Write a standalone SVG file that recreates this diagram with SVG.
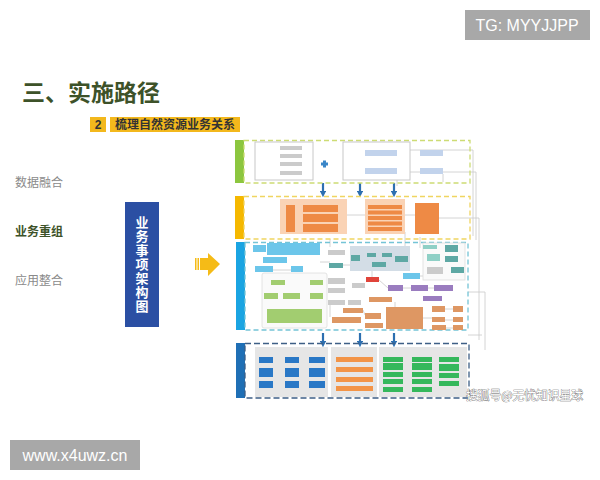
<svg xmlns="http://www.w3.org/2000/svg" width="600" height="480" viewBox="0 0 600 480">
<style>
.cjk{font-family:"Noto Sans CJK SC","Liberation Sans",sans-serif}
.lat{font-family:"Liberation Sans",Arial,sans-serif}
.side{font-size:12px;fill:#8a8a8a}
.o{fill:#ee8a45}
.lo{fill:#fad3b5}
.b{fill:#2a78c6}
.og{fill:#f39447}
.g{fill:#35b85c}
.gp{fill:#e6e6e6}
.cy{fill:#6cc6ea}
.tl{fill:#5ea8a4}
.lg{fill:#a2cd70}
.gr{fill:#cbcbcb}
.pu{fill:#9a7cbf}
.br{fill:#de9763}
.lb{fill:#c2d3ec}
.wb{fill:#fff;stroke:#c8c8c8;stroke-width:1}
.ln{fill:none;stroke:#c9c9c9;stroke-width:0.8}
.ar{fill:none;stroke:#2d6fb0;stroke-width:2.2}
</style>
<defs>
<marker id="ah" viewBox="0 0 6 6" refX="3" refY="3" markerWidth="3" markerHeight="3" orient="auto"><path d="M0,0 L6,3 L0,6 z" fill="#2d6fb0"/></marker>
</defs>
<rect width="600" height="480" fill="#fff"/>

<g id="title">
<text x="22" y="101" class="cjk" font-size="23" font-weight="bold" fill="#3d5229">三、实施路径</text>
</g>
<g id="badge">
<rect x="90" y="117" width="16" height="15" fill="#f3b81c"/>
<text x="98" y="129" class="lat" font-size="12" font-weight="bold" fill="#333" text-anchor="middle">2</text>
<rect x="110" y="117" width="130" height="15" fill="#f3b81c"/>
<text x="175" y="129" class="cjk" font-size="12" font-weight="bold" fill="#333" text-anchor="middle">梳理自然资源业务关系</text>
</g>

<g id="left-labels">
<text x="15" y="187" class="cjk side">数据融合</text>
<text x="15" y="236" class="cjk" font-size="12" font-weight="bold" fill="#3d5229">业务重组</text>
<text x="15" y="285" class="cjk side">应用整合</text>
</g>

<g id="arch-box">
<rect x="125" y="202" width="34" height="125" fill="#2b4fa3"/>
<text x="142" y="265" class="cjk" font-size="13" font-weight="bold" fill="#fff" text-anchor="middle" writing-mode="vertical-rl" letter-spacing="1">业务事项架构图</text>
</g>

<g id="yellow-arrow" fill="#f5bb17">
<rect x="195" y="258" width="1.5" height="12"/>
<rect x="197.5" y="258" width="1.5" height="12"/>
<polygon points="200,258 208,258 208,253 220,264 208,276 208,270 200,270"/>
</g>

<g id="connectors">
<path class="ln" d="M410,172 L470,172 L476,172 L476,240"/>
<path class="ln" d="M443,174 L443,182 M397,174 L397,186 M410,150 L473,150 L473,236"/>
<path class="ln" d="M347,215 L365,215 M405,215 L415,215 M439,218 L479,218 L479,340"/>
<path class="ln" d="M330,239 L330,247 M405,232 L405,246 M420,237 L420,248"/>
<path class="ln" d="M468,292 L485,292 L485,350 M468,335 L482,335 M320,262 L330,262 M343,265 L350,265 M360,258 L367,255 M376,255 L382,255 M386,264 L395,260 M372,271 L372,277 M379,280 L388,288 M403,288 L411,288 M428,288 L434,288 M403,276 L423,276 M395,302 L395,307 M363,310 L365,315 M423,318 L432,318 M445,309 L453,309 M445,320 L453,320 M445,328 L453,328 M437,247 L445,248 M440,258 L445,259 M285,283 L310,283 M278,296 L283,296 M300,296 L310,296 M291,300 L291,309 M266,270 L291,270 M330,305 L330,317"/>
<path class="ar" d="M323,183 L323,194" marker-end="url(#ah)"/>
<path class="ar" d="M360,183 L360,194" marker-end="url(#ah)"/>
<path class="ar" d="M394,183 L394,194" marker-end="url(#ah)"/>
<path class="ar" d="M323,333 L323,344" marker-end="url(#ah)"/>
<path class="ar" d="M360,333 L360,344" marker-end="url(#ah)"/>
<path class="ar" d="M394,333 L394,344" marker-end="url(#ah)"/>
</g>

<g id="band-data">
<rect x="235" y="140" width="9" height="43" fill="#8cc63f"/>
<rect x="244" y="140.5" width="226" height="42.5" fill="none" stroke="#cddc74" stroke-width="1.3" stroke-dasharray="5,3"/>
<rect x="255" y="142" width="58" height="38" class="wb"/>
<rect x="280" y="146" width="22" height="4" class="gr"/>
<rect x="280" y="154" width="22" height="4" class="gr"/>
<rect x="280" y="162" width="22" height="4" class="gr"/>
<rect x="280" y="171" width="22" height="4" class="gr"/>
<path d="M321,164 h7 M324.5,160.5 v7" stroke="#3a86c8" stroke-width="3"/>
<rect x="343" y="142" width="67" height="38" class="wb"/>
<rect x="365" y="150" width="32" height="6" class="lb"/>
<rect x="365" y="168" width="32" height="6" class="lb"/>
<rect x="420" y="150" width="23" height="6" class="lb"/>
<rect x="420" y="168" width="23" height="6" class="lb"/>
</g>

<g id="band-business">
<rect x="235" y="196" width="9" height="43" fill="#f5b800"/>
<rect x="244" y="196.5" width="226" height="42.5" fill="none" stroke="#f0d560" stroke-width="1.3" stroke-dasharray="5,3"/>
<rect x="280" y="199" width="67" height="35" class="lo"/>
<rect x="286" y="205" width="9" height="27" class="o"/>
<rect x="303" y="205" width="35" height="7" class="o"/>
<rect x="303" y="214" width="35" height="8" class="o"/>
<rect x="303" y="224" width="35" height="8" class="o"/>
<rect x="365" y="199" width="40" height="35" class="lo"/>
<rect x="368" y="205" width="34" height="4" class="o"/>
<rect x="368" y="210.5" width="34" height="4" class="o"/>
<rect x="368" y="216" width="34" height="4" class="o"/>
<rect x="368" y="221.5" width="34" height="4" class="o"/>
<rect x="368" y="227" width="34" height="4" class="o"/>
<rect x="415" y="203" width="24" height="31" class="o"/>
</g>

<g id="band-application">
<rect x="236" y="242" width="9" height="88" fill="#1aa4e2"/>
<rect x="245" y="242.5" width="223" height="87.5" fill="none" stroke="#74c4d6" stroke-width="1.3" stroke-dasharray="5,3"/>
<rect x="262" y="273" width="65" height="55" rx="2" fill="#fafafa" stroke="#ddd" stroke-width="0.8"/>
<rect x="350" y="246" width="60" height="25" fill="#d3dde6"/>
<rect x="423" y="243" width="42" height="37" fill="#fafafa" stroke="#ddd" stroke-width="0.8"/>
<rect x="253" y="245" width="13" height="7" class="cy"/>
<rect x="267" y="243" width="53" height="12" class="cy"/>
<rect x="263" y="257" width="24" height="6" class="cy"/>
<rect x="255" y="266" width="18" height="6" class="cy"/>
<rect x="291" y="266" width="12" height="6" class="cy"/>
<rect x="271" y="280" width="14" height="5" class="lg"/>
<rect x="310" y="280" width="13" height="5" class="lg"/>
<rect x="264" y="293" width="14" height="6" class="lg"/>
<rect x="283" y="293" width="17" height="6" class="lg"/>
<rect x="310" y="293" width="13" height="6" class="lg"/>
<rect x="267" y="309" width="55" height="14" class="lg"/>
<rect x="328" y="250" width="17" height="5" class="gr"/>
<rect x="329" y="263" width="14" height="5" class="tl"/>
<rect x="328" y="278" width="17" height="6" class="gr"/>
<rect x="328" y="288" width="17" height="5" class="gr"/>
<rect x="328" y="300" width="17" height="5" class="gr"/>
<rect x="348" y="300" width="13" height="5" class="gr"/>
<rect x="352" y="283" width="13" height="5" class="gr"/>
<rect x="351" y="255" width="9" height="6" class="tl"/>
<rect x="367" y="253" width="9" height="4" class="tl"/>
<rect x="382" y="253" width="10" height="4" class="tl"/>
<rect x="372" y="262" width="14" height="5" class="tl"/>
<rect x="395" y="256" width="13" height="6" class="tl"/>
<rect x="366" y="277" width="13" height="5" fill="#e0443a"/>
<rect x="403" y="273" width="17" height="6" class="cy"/>
<rect x="388" y="285" width="15" height="6" class="pu"/>
<rect x="411" y="285" width="17" height="6" class="pu"/>
<rect x="434" y="285" width="19" height="6" class="pu"/>
<rect x="423" y="296" width="19" height="5" class="pu"/>
<rect x="369" y="297" width="23" height="5" class="br"/>
<rect x="343" y="308" width="20" height="5" class="br"/>
<rect x="365" y="313" width="16" height="6" class="br"/>
<rect x="332" y="317" width="29" height="6" class="br"/>
<rect x="365" y="323" width="18" height="5" class="br"/>
<rect x="386" y="307" width="37" height="22" class="br"/>
<rect x="432" y="306" width="13" height="6" class="br"/>
<rect x="453" y="306" width="10" height="6" class="br"/>
<rect x="432" y="317" width="13" height="5" class="br"/>
<rect x="453" y="317" width="10" height="5" class="br"/>
<rect x="432" y="325" width="14" height="5" class="br"/>
<rect x="453" y="325" width="10" height="5" class="br"/>
<rect x="423" y="245" width="14" height="4" fill="#8fd0c6"/>
<rect x="445" y="245" width="13" height="7" class="tl"/>
<rect x="427" y="254" width="13" height="7" fill="#8fd0c6"/>
<rect x="445" y="256" width="13" height="6" class="tl"/>
<rect x="427" y="267" width="16" height="7" class="gr"/>
<rect x="451" y="267" width="13" height="6" class="tl"/>
</g>

<g id="band-basic">
<rect x="236" y="343" width="9" height="55" fill="#1f6fb5"/>
<rect x="245" y="343.5" width="224" height="54.5" fill="none" stroke="#3e5f86" stroke-width="1.3" stroke-dasharray="6,3"/>
<rect x="255" y="347" width="73" height="50" class="gp"/>
<rect x="331" y="347" width="46" height="50" class="gp"/>
<rect x="379" y="347" width="88" height="50" class="gp"/>
<rect x="259" y="357" width="14" height="6" class="b"/>
<rect x="285" y="357" width="14" height="6" class="b"/>
<rect x="309" y="357" width="16" height="6" class="b"/>
<rect x="259" y="368" width="14" height="9" class="b"/>
<rect x="285" y="368" width="14" height="9" class="b"/>
<rect x="309" y="368" width="16" height="9" class="b"/>
<rect x="259" y="381" width="14" height="7" class="b"/>
<rect x="285" y="381" width="14" height="7" class="b"/>
<rect x="309" y="381" width="16" height="7" class="b"/>
<rect x="336" y="357" width="37" height="5" class="og"/>
<rect x="336" y="367" width="37" height="5" class="og"/>
<rect x="336" y="377" width="37" height="5" class="og"/>
<rect x="336" y="386" width="37" height="5" class="og"/>
<rect x="383" y="357" width="20" height="5" class="g"/>
<rect x="383" y="363" width="20" height="7" class="g"/>
<rect x="383" y="372" width="20" height="5" class="g"/>
<rect x="383" y="379" width="20" height="5" class="g"/>
<rect x="383" y="387" width="20" height="5" class="g"/>
<rect x="412" y="357" width="20" height="5" class="g"/>
<rect x="412" y="363" width="20" height="7" class="g"/>
<rect x="412" y="372" width="20" height="5" class="g"/>
<rect x="412" y="379" width="20" height="5" class="g"/>
<rect x="412" y="387" width="20" height="5" class="g"/>
<rect x="439" y="357" width="20" height="5" class="g"/>
<rect x="439" y="364" width="20" height="7" class="g"/>
<rect x="439" y="373" width="20" height="5" class="g"/>
<rect x="439" y="381" width="20" height="5" class="g"/>
</g>

<g id="watermarks">
<text x="466" y="400" class="cjk" font-size="12.5" textLength="117" lengthAdjust="spacingAndGlyphs" fill="#fff" stroke="#666" stroke-width="0.7" paint-order="stroke">搜狐号@无忧知识星球</text>
<rect x="465" y="10" width="125" height="30" fill="#a8a8a8"/>
<text x="527" y="31" class="lat" font-size="16" fill="#fff" text-anchor="middle">TG: MYYJJPP</text>
<rect x="10" y="440" width="130" height="30" fill="#a8a8a8"/>
<text x="75" y="461" class="lat" font-size="16" fill="#fff" text-anchor="middle">www.x4uwz.cn</text>
</g>
</svg>
